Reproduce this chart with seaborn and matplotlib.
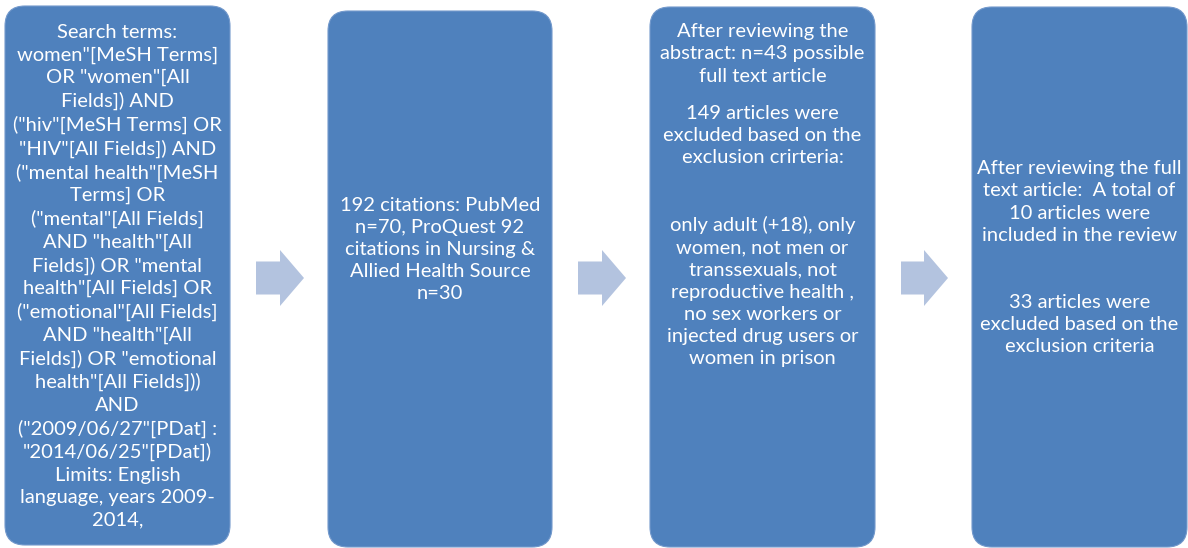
import matplotlib.pyplot as plt
import matplotlib.patches as mpatches
import seaborn as sns

# Texto de cada etapa (parágrafos separados)
etapa1 = [
    'Search terms:\nwomen"[MeSH Terms]\nOR "women"[All\nFields]) AND\n("hiv"[MeSH Terms] OR\n'
    '"HIV"[All Fields]) AND\n("mental health"[MeSH\nTerms] OR\n("mental"[All Fields]\n'
    'AND "health"[All\nFields]) OR "mental\nhealth"[All Fields] OR\n("emotional"[All Fields]\n'
    'AND "health"[All\nFields]) OR "emotional\nhealth"[All Fields]))\nAND\n'
    '("2009/06/27"[PDat] :\n"2014/06/25"[PDat])\nLimits: English\nlanguage, years 2009-\n2014,'
]
etapa2 = [
    "192 citations: PubMed\nn=70, ProQuest 92\ncitations in Nursing &\nAllied Health Source\nn=30"
]
etapa3 = [
    "After reviewing the\nabstract: n=43 possible\nfull text article",
    "149 articles were\nexcluded based on the\nexclusion crirteria:\n\n\n"
    "only adult (+18), only\nwomen, not men or\ntranssexuals, not\nreproductive health ,\n"
    "no sex workers or\ninjected drug users or\nwomen in prison",
]
etapa4 = [
    "After reviewing the full\ntext article:  A total of\n10 articles were\nincluded in the review",
    "33 articles were\nexcluded based on the\nexclusion criteria",
]
textos = [etapa1, etapa2, etapa3, etapa4]

# Layout das caixas (pixels)
esquerda = [5, 328, 650, 972]
direita = [230, 552, 875, 1187]
topo = [6, 11, 7, 7]
base = [545, 547, 547, 547]
# centro vertical de cada parágrafo
pos_texto = [[276], [249.5], [54, 236], [202, 324.5]]

COR_CAIXA = "#4f81bd"
COR_BORDA = "#7399cc"
COR_SETA = "#b3c3df"

sns.set_theme(style="white")
plt.rcParams["font.family"] = ["Lato", "DejaVu Sans"]

fig = plt.figure(figsize=(11.88, 5.48), dpi=100)
ax = fig.add_axes([0, 0, 1, 1])
ax.set_xlim(0, 1188)
ax.set_ylim(548, 0)
ax.axis("off")

for i in range(4):
    largura = direita[i] - esquerda[i]
    altura = base[i] - topo[i]
    caixa = mpatches.FancyBboxPatch(
        (esquerda[i], topo[i]), largura, altura,
        boxstyle="round,pad=0,rounding_size=20",
        facecolor=COR_CAIXA, edgecolor=COR_BORDA, linewidth=0.8)
    ax.add_patch(caixa)
    cx = (esquerda[i] + direita[i]) / 2
    for paragrafo, y in zip(textos[i], pos_texto[i]):
        ax.text(cx, y, paragrafo, ha="center", va="center", color="white",
                fontsize=14.5, linespacing=1.37, multialignment="center")

    # Setas entre as caixas
    if i < 3:
        x0 = direita[i] + 26
        x1 = esquerda[i + 1] - 24
        ax.arrow(x0, 278, x1 - x0, 0, width=33, head_width=56,
                 head_length=24, length_includes_head=True,
                 color=COR_SETA, linewidth=0)

plt.savefig("out.png", dpi=100)
plt.close()
